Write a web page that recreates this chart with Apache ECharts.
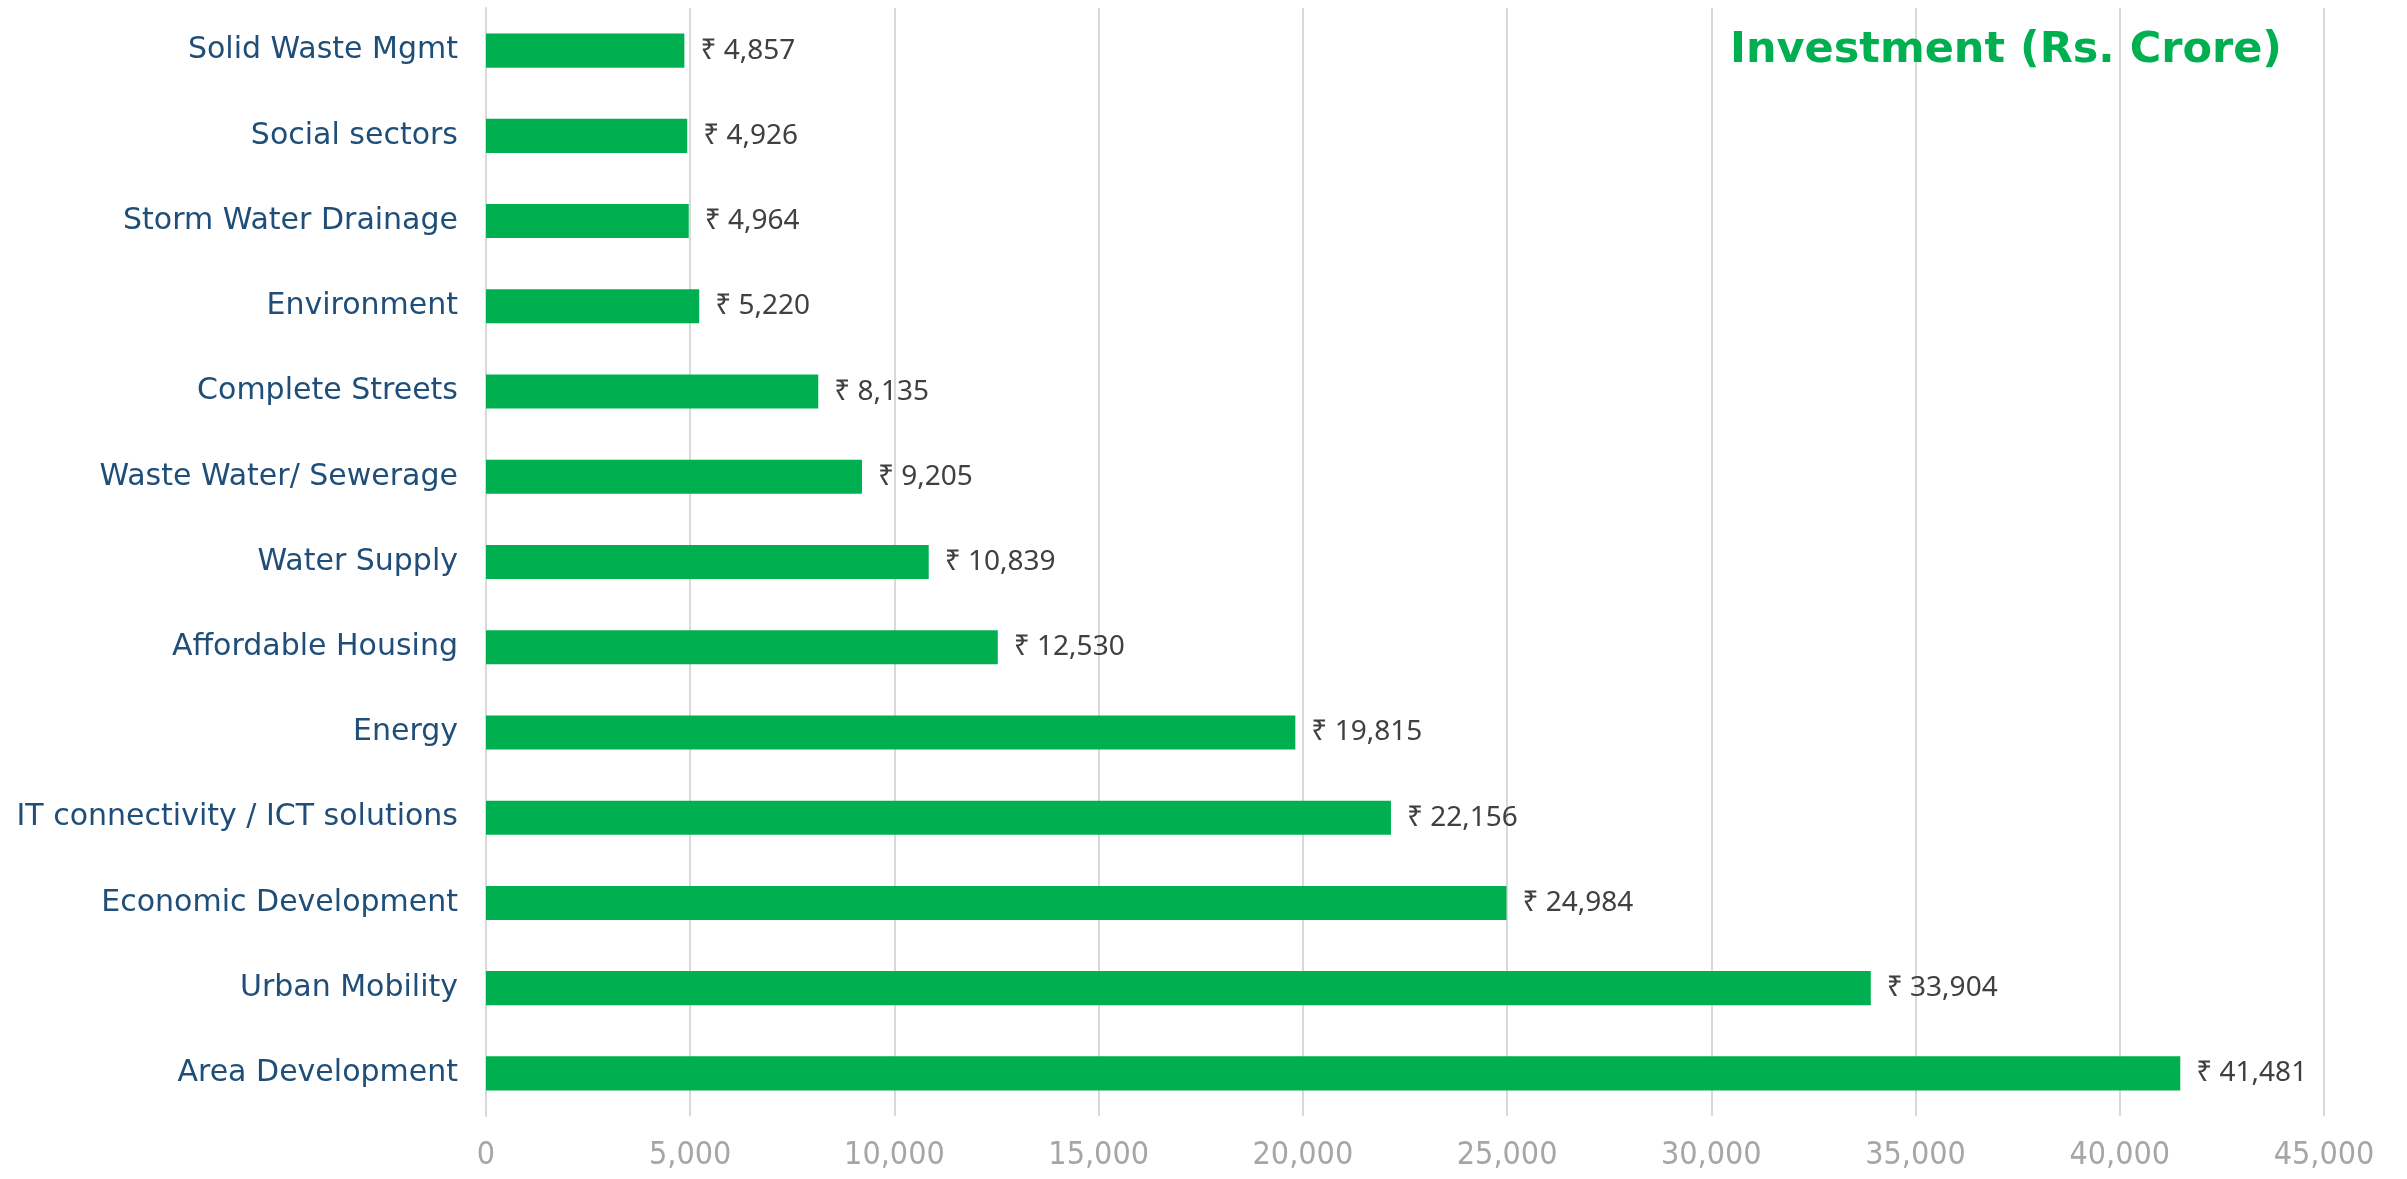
<!DOCTYPE html>
<html>
<head>
<meta charset="utf-8">
<script src="https://cdn.jsdelivr.net/npm/echarts@6/dist/echarts.min.js"></script>
<style>
  html, body { margin: 0; padding: 0; background: #fff; }
  #chart { width: 2407px; height: 1179px; }
</style>
</head>
<body>
<div id="chart"></div>
<script>
// top to bottom, as in the picture
var sectors = [
  'Solid Waste Mgmt', 'Social sectors', 'Storm Water Drainage', 'Environment',
  'Complete Streets', 'Waste Water/ Sewerage', 'Water Supply', 'Affordable Housing',
  'Energy', 'IT connectivity / ICT solutions', 'Economic Development',
  'Urban Mobility', 'Area Development'
]
var investment = [4857, 4926, 4964, 5220, 8135, 9205, 10839, 12530, 19815, 22156, 24984, 33904, 41481]
var xTicks = [0, 5000, 10000, 15000, 20000, 25000, 30000, 35000, 40000, 45000]

var chart = echarts.init(document.getElementById('chart'))
chart.setOption({
  animation: false,
  title: {
    text: 'Investment (Rs. Crore)',
    right: 120,
    top: 24,
    textStyle: {
      color: '#00b050',
      fontFamily: 'DejaVu Sans',
      fontWeight: 'bold',
      fontSize: 43
    }
  },
  grid: { left: 486, right: 83, top: 8, bottom: 63 },
  xAxis: {
    type: 'value',
    min: xTicks[0],
    max: xTicks[xTicks.length - 1],
    interval: 5000,
    axisLine: { show: false },
    axisTick: { show: false },
    splitLine: { lineStyle: { color: '#d9d9d9', width: 2 } },
    axisLabel: {
      color: '#a6a6a6',
      fontFamily: "'DejaVu Sans Condensed', 'DejaVu Sans'",
      fontSize: 32,
      margin: 24,
      formatter: function (v) { return v.toLocaleString('en-US') }
    }
  },
  yAxis: {
    type: 'category',
    inverse: true,
    data: sectors,
    axisLine: { show: true, lineStyle: { color: '#d9d9d9', width: 2 } },
    axisTick: { show: false },
    axisLabel: {
      color: '#1f4e79',
      fontFamily: 'DejaVu Sans',
      fontSize: 30,
      margin: 28
    }
  },
  series: [{
    type: 'bar',
    data: investment,
    barCategoryGap: '60%',
    itemStyle: { color: '#00b050' },
    label: {
      show: true,
      position: 'right',
      distance: 16,
      color: '#404040',
      fontFamily: "'Noto Sans', 'DejaVu Sans'",
      fontSize: 28,
      formatter: function (p) { return '₹ ' + p.value.toLocaleString('en-US') }
    }
  }]
})
</script>
</body>
</html>
